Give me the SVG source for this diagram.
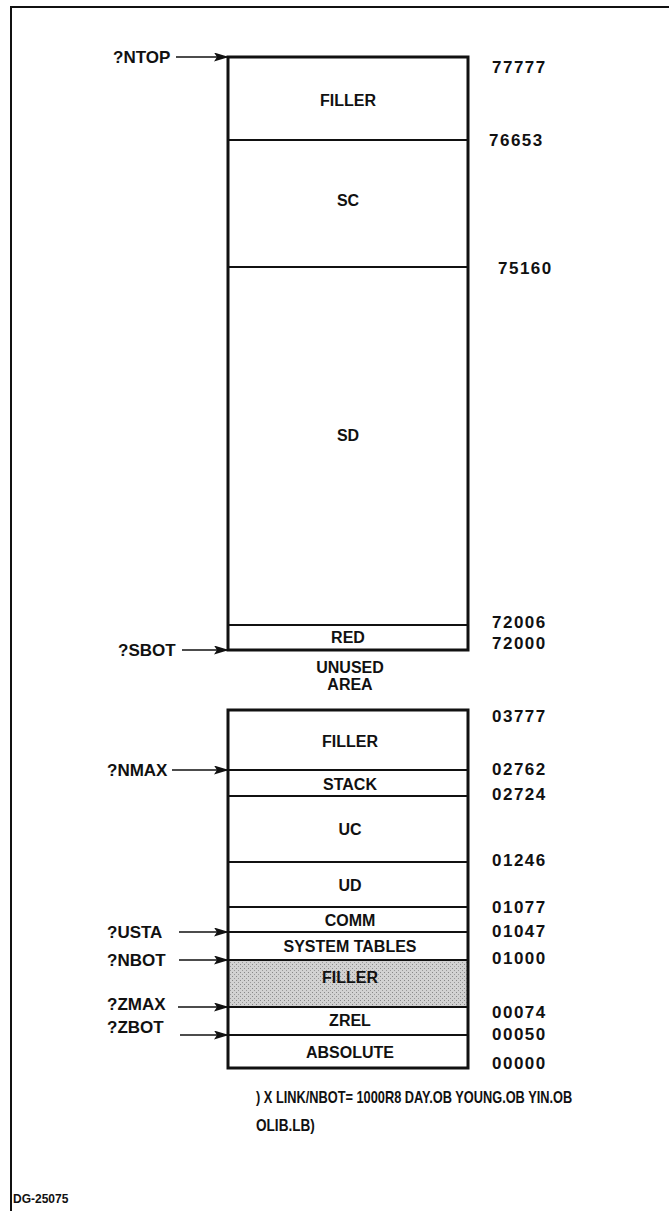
<svg xmlns="http://www.w3.org/2000/svg" width="669" height="1211" viewBox="0 0 669 1211">
<style>
  text { font-family: "Liberation Sans", Arial, sans-serif; font-weight: bold; fill: #111; }
  .lbl { font-size: 16px; text-anchor: middle; }
  .num { font-size: 17px; letter-spacing: 1.5px; }
  .ptr { font-size: 17px; }
  .cmd { font-size: 16px; }
  .box { fill: none; stroke: #111; stroke-width: 3; }
  .div { stroke: #111; stroke-width: 2; }
  .arr { stroke: #111; stroke-width: 1.6; fill: none; marker-end: url(#ah); }
</style>
<defs>
  <marker id="ah" markerWidth="15" markerHeight="9" refX="14" refY="4.5" orient="auto" markerUnits="userSpaceOnUse">
    <path d="M0,0 L15,4.5 L0,9 L3,4.5 Z" fill="#111"/>
  </marker>
  <pattern id="stip" width="4" height="4" patternUnits="userSpaceOnUse">
    <rect width="4" height="4" fill="#d2d2d2"/>
    <rect x="0" y="0" width="1" height="1" fill="#888"/>
    <rect x="2" y="2" width="1" height="1" fill="#999"/>
  </pattern>
</defs>
<rect width="669" height="1211" fill="#fff"/>
<g id="frame">
  <line x1="10" y1="7" x2="669" y2="7" stroke="#111" stroke-width="2"/>
  <line x1="11" y1="6" x2="11" y2="1211" stroke="#111" stroke-width="2"/>
</g>

<g id="upper-memory">
  <g id="u-filler"><text class="lbl" x="348" y="106">FILLER</text></g>
  <g id="u-sc"><text class="lbl" x="348" y="206">SC</text></g>
  <g id="u-sd"><text class="lbl" x="348" y="441">SD</text></g>
  <g id="u-red"><text class="lbl" x="348" y="643">RED</text></g>
  <rect class="box" x="228" y="57" width="240" height="593"/>
  <line class="div" x1="228" y1="140" x2="468" y2="140"/>
  <line class="div" x1="228" y1="267" x2="468" y2="267"/>
  <line class="div" x1="228" y1="625" x2="468" y2="625"/>
</g>

<g id="unused">
  <text class="lbl" x="350" y="673">UNUSED</text>
  <text class="lbl" x="350" y="690">AREA</text>
</g>

<g id="lower-memory">
  <rect x="228" y="960" width="240" height="47" fill="url(#stip)"/>
  <g id="l-filler"><text class="lbl" x="350" y="747">FILLER</text></g>
  <g id="l-stack"><text class="lbl" x="350" y="790">STACK</text></g>
  <g id="l-uc"><text class="lbl" x="350" y="835">UC</text></g>
  <g id="l-ud"><text class="lbl" x="350" y="891">UD</text></g>
  <g id="l-comm"><text class="lbl" x="350" y="926">COMM</text></g>
  <g id="l-systab"><text class="lbl" x="350" y="952">SYSTEM TABLES</text></g>
  <g id="l-filler2"><text class="lbl" x="350" y="983">FILLER</text></g>
  <g id="l-zrel"><text class="lbl" x="350" y="1026">ZREL</text></g>
  <g id="l-abs"><text class="lbl" x="350" y="1058">ABSOLUTE</text></g>
  <rect class="box" x="228" y="710" width="240" height="358"/>
  <line class="div" x1="228" y1="770" x2="468" y2="770"/>
  <line class="div" x1="228" y1="796" x2="468" y2="796"/>
  <line class="div" x1="228" y1="862" x2="468" y2="862"/>
  <line class="div" x1="228" y1="907" x2="468" y2="907"/>
  <line class="div" x1="228" y1="932" x2="468" y2="932"/>
  <line class="div" x1="228" y1="960" x2="468" y2="960"/>
  <line class="div" x1="228" y1="1007" x2="468" y2="1007"/>
  <line class="div" x1="228" y1="1035" x2="468" y2="1035"/>
</g>

<g id="addresses">
  <text class="num" x="492" y="73">77777</text>
  <text class="num" x="489" y="146">76653</text>
  <text class="num" x="498" y="274">75160</text>
  <text class="num" x="492" y="628">72006</text>
  <text class="num" x="492" y="649">72000</text>
  <text class="num" x="492" y="722">03777</text>
  <text class="num" x="492" y="775">02762</text>
  <text class="num" x="492" y="800">02724</text>
  <text class="num" x="492" y="866">01246</text>
  <text class="num" x="492" y="913">01077</text>
  <text class="num" x="492" y="937">01047</text>
  <text class="num" x="492" y="964">01000</text>
  <text class="num" x="492" y="1018">00074</text>
  <text class="num" x="492" y="1040">00050</text>
  <text class="num" x="492" y="1069">00000</text>
</g>

<g id="pointers">
  <text class="ptr" x="113" y="63">?NTOP</text>
  <text class="ptr" x="118" y="656">?SBOT</text>
  <text class="ptr" x="107" y="776">?NMAX</text>
  <text class="ptr" x="107" y="938">?USTA</text>
  <text class="ptr" x="107" y="966">?NBOT</text>
  <text class="ptr" x="107" y="1010">?ZMAX</text>
  <text class="ptr" x="107" y="1033">?ZBOT</text>
</g>

<g id="connectors">
  <line class="arr" x1="176" y1="57" x2="228" y2="57"/>
  <line class="arr" x1="182" y1="650" x2="228" y2="650"/>
  <line class="arr" x1="172" y1="770" x2="228" y2="770"/>
  <line class="arr" x1="179" y1="932" x2="228" y2="932"/>
  <line class="arr" x1="179" y1="960" x2="228" y2="960"/>
  <line class="arr" x1="178" y1="1007" x2="228" y2="1007"/>
  <line class="arr" x1="180" y1="1035" x2="228" y2="1035"/>
</g>

<g id="command">
  <text class="cmd" transform="translate(256,1103) scale(0.8,1)">) X LINK/NBOT= 1000R8 DAY.OB YOUNG.OB YIN.OB</text>
  <text class="cmd" transform="translate(256,1131) scale(0.85,1)">OLIB.LB)</text>
</g>
<text x="13" y="1203" style="font-size:12px">DG-25075</text>
</svg>
